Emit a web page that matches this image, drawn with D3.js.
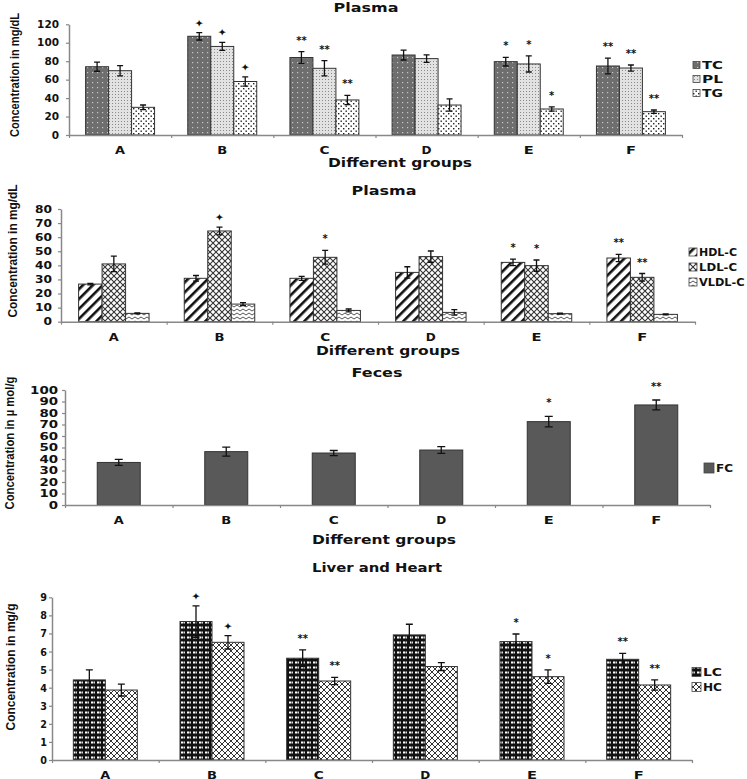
<!DOCTYPE html>
<html><head><meta charset="utf-8">
<script src="https://cdn.jsdelivr.net/npm/d3@7"></script>
<style>body{margin:0;background:#fff}svg{display:block}</style>
</head><body>
<script>
// ---------------- DATA ----------------
const groups = ["A","B","C","D","E","F"];

// Panel 1: Plasma (mg/dL)
const p1Ticks = [0,20,40,60,80,100,120];
const p1Names = ["TC","PL","TG"];
const p1TC = [74, 107, 84, 86.7, 79.5, 74.8];
const p1TCerr = [4.9, 4, 6.3, 5.4, 4.7, 8.5];
const p1PL = [69.7, 96, 72.3, 82.8, 77, 72.6];
const p1PLerr = [5.6, 4.3, 8.3, 4, 8.7, 3.3];
const p1TG = [30, 58, 38, 32.5, 28.2, 25.3];
const p1TGerr = [2.5, 5, 5, 6.7, 2.3, 1.8];
const p1TCsig = ["","✦","**","","*","**"];
const p1PLsig = ["","✦","**","","*","**"];
const p1TGsig = ["","✦","**","","*","**"];

// Panel 2: Plasma lipoproteins (mg/dL)
const p2Ticks = [0,10,20,30,40,50,60,70,80];
const p2Names = ["HDL-C","LDL-C","VLDL-C"];
const p2HDL = [26.7, 30.8, 30.8, 35, 42.1, 45.2];
const p2HDLerr = [0.5, 2, 1.4, 4, 2.3, 2.6];
const p2LDL = [41, 64.4, 45.7, 46.2, 39.8, 31.5];
const p2LDLerr = [5.5, 2.7, 4.9, 4, 4, 2.7];
const p2VLDL = [5.9, 12.5, 8, 6.6, 5.7, 5.2];
const p2VLDLerr = [0.4, 1, 1, 2, 0.3, 0.3];
const p2HDLsig = ["","","","","*","**"];
const p2LDLsig = ["","✦","*","","*","**"];
const p2VLDLsig = ["","","","","",""];

// Panel 3: Feces (µ mol/g)
const p3Ticks = [0,10,20,30,40,50,60,70,80,90,100];
const p3Names = ["FC"];
const p3FC = [37, 46.4, 45.2, 47.8, 72.5, 87];
const p3FCerr = [2.6, 3.9, 2.2, 2.9, 4.6, 4.3];
const p3FCsig = ["","","","","*","**"];

// Panel 4: Liver and Heart (mg/g)
const p4Ticks = [0,1,2,3,4,5,6,7,8,9];
const p4Names = ["LC","HC"];
const p4LC = [4.43, 7.66, 5.63, 6.92, 6.55, 5.57];
const p4LCerr = [0.55, 0.87, 0.46, 0.59, 0.42, 0.33];
const p4HC = [3.87, 6.51, 4.37, 5.17, 4.61, 4.15];
const p4HCerr = [0.33, 0.37, 0.2, 0.22, 0.37, 0.28];
const p4LCsig = ["","✦","**","","*","**"];
const p4HCsig = ["","✦","**","","*","**"];

// ---------------- DRAWING ----------------
const W = 747, H = 779;
const FONT = "'DejaVu Sans', Verdana, sans-serif";
const NARROW = "'Liberation Sans Narrow', 'Liberation Sans', Arial, sans-serif";
const svg = d3.select("body").append("svg").attr("width", W).attr("height", H);
const defs = svg.append("defs");

function pat(id, w, h, build, transform) {
  const p = defs.append("pattern").attr("id", id).attr("patternUnits", "userSpaceOnUse")
    .attr("width", w).attr("height", h);
  if (transform) p.attr("patternTransform", transform);
  build(p);
}
pat("pTC", 5, 5, p => {
  p.append("rect").attr("width", 5).attr("height", 5).attr("fill", "#6e6e6e");
  p.append("rect").attr("x", 2).attr("y", 2).attr("width", 1.2).attr("height", 1.2).attr("fill", "#c8c8c8");
});
pat("pPL", 3, 3, p => {
  p.append("rect").attr("width", 3).attr("height", 3).attr("fill", "#e2e2e2");
  p.append("rect").attr("x", 1).attr("y", 1).attr("width", 1).attr("height", 1).attr("fill", "#8a8a8a");
});
pat("pTG", 5, 5, p => {
  p.append("rect").attr("width", 5).attr("height", 5).attr("fill", "#fff");
  p.append("rect").attr("x", 0.5).attr("y", 0.5).attr("width", 1.4).attr("height", 1.4).attr("fill", "#222");
  p.append("rect").attr("x", 3).attr("y", 3).attr("width", 1.4).attr("height", 1.4).attr("fill", "#222");
});
pat("pHDL", 7, 7, p => {
  p.append("rect").attr("width", 7).attr("height", 7).attr("fill", "#fff");
  p.append("rect").attr("width", 2.6).attr("height", 7).attr("fill", "#111");
}, "rotate(45)");
pat("pLDL", 6, 6, p => {
  p.append("rect").attr("width", 6).attr("height", 6).attr("fill", "#fff");
  p.append("path").attr("d", "M0,0L6,6M6,0L0,6").attr("stroke", "#333").attr("stroke-width", 1.1).attr("fill", "none");
});
pat("pVLDL", 6, 4, p => {
  p.append("rect").attr("width", 6).attr("height", 4).attr("fill", "#fff");
  p.append("path").attr("d", "M0,3L3,1L6,3").attr("stroke", "#555").attr("stroke-width", 1).attr("fill", "none");
});
pat("pFC", 4, 4, p => {
  p.append("rect").attr("width", 4).attr("height", 4).attr("fill", "#595959");
});
pat("pLC", 6, 5, p => {
  p.append("rect").attr("width", 6).attr("height", 5).attr("fill", "#111");
  p.append("rect").attr("x", 1).attr("y", 1.5).attr("width", 2.5).attr("height", 2).attr("fill", "#fff");
  p.append("rect").attr("x", 4).attr("y", 1.5).attr("width", 1).attr("height", 2).attr("fill", "#ddd");
});
pat("pHC", 6, 6, p => {
  p.append("rect").attr("width", 6).attr("height", 6).attr("fill", "#fff");
  p.append("path").attr("d", "M0,0L6,6M6,0L0,6").attr("stroke", "#333").attr("stroke-width", 1).attr("fill", "none");
});

function txt(g, s, x, y, size, len, opts = {}) {
  const t = g.append("text").attr("x", x).attr("y", y).text(s)
    .attr("font-family", opts.family || FONT).attr("font-weight", "bold")
    .attr("font-size", size).attr("fill", "#111")
    .attr("text-anchor", opts.anchor || "middle");
  if (len) t.attr("textLength", len).attr("lengthAdjust", "spacingAndGlyphs");
  if (opts.transform) t.attr("transform", opts.transform);
  return t;
}

function panel(c) {
  const g = svg.append("g");
  const x = d3.scaleBand().domain(groups).range([c.x0, c.x1]);
  const y = d3.scaleLinear().domain([0, c.ymax]).range([c.y0, c.yTop]);
  const bw = x.bandwidth();
  const inner = d3.scaleBand().domain(c.series.map(s => s.name)).range([0, bw * c.frac]);
  const off = (bw - bw * c.frac) / 2;

  c.series.forEach(s => {
    const sg = g.append("g");
    groups.forEach((grp, i) => {
      const bx = x(grp) + off + inner(s.name);
      const v = s.values[i], e = s.err[i];
      sg.append("rect").attr("x", bx).attr("y", y(v)).attr("width", inner.bandwidth())
        .attr("height", y(0) - y(v)).attr("fill", `url(#${s.pat})`)
        .attr("stroke", "#333").attr("stroke-width", 1);
      const cx = bx + inner.bandwidth() / 2;
      const hw = c.cap / 2;
      sg.append("path")
        .attr("d", `M${cx},${y(v - e)}V${y(v + e)}M${cx - hw},${y(v + e)}H${cx + hw}M${cx - hw},${y(v - e)}H${cx + hw}`)
        .attr("stroke", "#111").attr("stroke-width", 1.3).attr("fill", "none");
      const sig = s.sig[i];
      if (sig) {
        const star = sig === "✦";
        txt(sg, sig, cx, y(v + e) - (star ? c.gap - 2 : c.gap), star ? 10.5 : 10, null);
      }
    });
  });

  const ya = g.append("g").attr("transform", `translate(${c.x0},0)`)
    .call(d3.axisLeft(y).tickValues(c.ticks).tickSize(3).tickPadding(c.tpad).tickSizeOuter(0));
  ya.select(".domain").attr("stroke", "#888").attr("stroke-width", 1.5);
  ya.selectAll(".tick line").attr("stroke", "#888").attr("stroke-width", 1.2);
  ya.selectAll(".tick text").attr("font-family", FONT).attr("font-weight", "bold")
    .attr("font-size", c.tfs).attr("fill", "#111")
    .each(function(d) {
      const s = String(d);
      d3.select(this).attr("textLength", s.length * c.cw).attr("lengthAdjust", "spacingAndGlyphs");
    });

  const xl = d3.scaleLinear().domain([0, groups.length]).range([c.x0, c.x1]);
  const xa = g.append("g").attr("transform", `translate(0,${c.y0})`)
    .call(d3.axisBottom(xl).tickValues(d3.range(groups.length + 1)).tickFormat("").tickSize(3).tickSizeOuter(0));
  xa.select(".domain").attr("stroke", "#888").attr("stroke-width", 1.5);
  xa.selectAll(".tick line").attr("stroke", "#888").attr("stroke-width", 1.2);

  groups.forEach(grp => txt(g, grp, x(grp) + bw / 2, c.y0 + c.lab, 10.5, 10));

  txt(g, c.title, c.tx, c.ty, 12, c.tlen);
  if (c.xt) txt(g, "Different groups", c.xtx, c.xty, 11.5, 144);
  txt(g, c.ytitle, 0, 0, 13, c.ylen, { family: NARROW, transform: `translate(${c.yx},${c.yy}) rotate(-90)` });

  c.series.forEach((s, i) => {
    const ly = c.ly[i];
    g.append("rect").attr("x", c.lx).attr("y", ly - c.lb / 2).attr("width", c.lb).attr("height", c.lb)
      .attr("fill", `url(#${s.pat})`).attr("stroke", "#444").attr("stroke-width", 0.8);
    txt(g, s.name, c.lx + c.lb + 2, ly + 3.8, 10, s.name.length * c.lcw, { anchor: "start" });
  });
}

panel({
  x0: 69, x1: 682, y0: 135, yTop: 24.3, ymax: 120, ticks: p1Ticks, frac: 0.675,
  series: [
    { name: p1Names[0], values: p1TC, err: p1TCerr, sig: p1TCsig, pat: "pTC" },
    { name: p1Names[1], values: p1PL, err: p1PLerr, sig: p1PLsig, pat: "pPL" },
    { name: p1Names[2], values: p1TG, err: p1TGerr, sig: p1TGsig, pat: "pTG" }],
  cap: 6, gap: 8, tpad: 7, tfs: 10, cw: 7.3, lab: 19,
  title: "Plasma", tx: 366, ty: 12, tlen: 65,
  xt: true, xtx: 400, xty: 167,
  ytitle: "Concentration in  mg/dL", yx: 19, yy: 75, ylen: 124,
  lx: 693, ly: [65, 79, 93], lb: 7, lcw: 10.5
});

panel({
  x0: 61, x1: 695, y0: 321.7, yTop: 209, ymax: 80, ticks: p2Ticks, frac: 0.667,
  series: [
    { name: p2Names[0], values: p2HDL, err: p2HDLerr, sig: p2HDLsig, pat: "pHDL" },
    { name: p2Names[1], values: p2LDL, err: p2LDLerr, sig: p2LDLsig, pat: "pLDL" },
    { name: p2Names[2], values: p2VLDL, err: p2VLDLerr, sig: p2VLDLsig, pat: "pVLDL" }],
  cap: 6, gap: 8, tpad: 6, tfs: 10, cw: 8.5, lab: 19,
  title: "Plasma", tx: 384, ty: 195, tlen: 65,
  xt: true, xtx: 388, xty: 355,
  ytitle: "Concentration in  mg/dL", yx: 17, yy: 251, ylen: 133,
  lx: 689, ly: [252, 267, 282], lb: 8, lcw: 7.6
});

panel({
  x0: 65, x1: 710, y0: 505, yTop: 390, ymax: 100, ticks: p3Ticks, frac: 0.4,
  series: [
    { name: p3Names[0], values: p3FC, err: p3FCerr, sig: p3FCsig, pat: "pFC" }],
  cap: 8, gap: 10, tpad: 4, tfs: 10, cw: 9.3, lab: 19,
  title: "Feces", tx: 377, ty: 377, tlen: 51,
  xt: true, xtx: 384, xty: 544,
  ytitle: "Concentration in µ mol/g", yx: 14, yy: 443, ylen: 133,
  lx: 704, ly: [468], lb: 10, lcw: 8.5
});

panel({
  x0: 52, x1: 692, y0: 760, yTop: 597.3, ymax: 9, ticks: p4Ticks, frac: 0.6,
  series: [
    { name: p4Names[0], values: p4LC, err: p4LCerr, sig: p4LCsig, pat: "pLC" },
    { name: p4Names[1], values: p4HC, err: p4HCerr, sig: p4HCsig, pat: "pHC" }],
  cap: 7, gap: 8, tpad: 2, tfs: 11, cw: 6.7, lab: 18.5,
  title: "Liver and Heart", tx: 377, ty: 572, tlen: 130,
  xt: false,
  ytitle: "Concentration in  mg/g", yx: 15, yy: 667, ylen: 127,
  lx: 692, ly: [672, 687], lb: 9, lcw: 9.5
});
</script>
</body></html>
